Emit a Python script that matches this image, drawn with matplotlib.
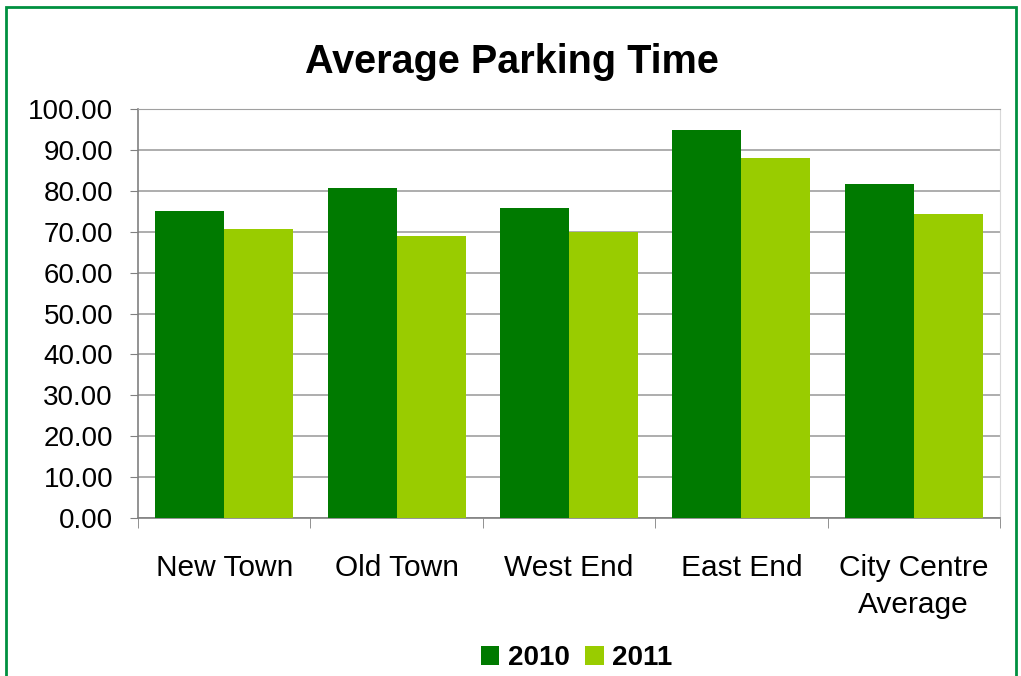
import numpy as np
import matplotlib.pyplot as plt
from matplotlib.patches import Rectangle

plt.rcParams['font.family'] = ['Liberation Sans', 'DejaVu Sans']

# values
areas = ['New Town', 'Old Town', 'West End', 'East End', 'City Centre\nAverage']
time_2010 = [75.1, 80.7, 75.9, 94.9, 81.6]
time_2011 = [70.6, 69.0, 70.0, 87.9, 74.3]
years = ['2010', '2011']

dark_green = '#007a00'
light_green = '#99cc00'

fig = plt.figure(figsize=(10.21, 6.76), dpi=100)
ax = fig.add_axes([138/1021, 1 - 518/676, 862/1021, 409/676])

x = np.arange(len(areas))
w = 0.4
ax.bar(x - w/2, time_2010, w, color=dark_green, label=years[0], zorder=3)
ax.bar(x + w/2, time_2011, w, color=light_green, label=years[1], zorder=3)

ax.set_xlim(-0.5, len(areas) - 0.5)
ax.set_ylim(0, 100)
ax.set_yticks(np.arange(0, 101, 10))
ax.set_yticklabels(['%.2f' % v for v in np.arange(0, 101, 10)], fontsize=20)
ax.yaxis.grid(True, color='#a0a0a0', linewidth=1.2, zorder=0)

# category labels centred, tick marks on the boundaries
ax.set_xticks(x)
ax.set_xticklabels(areas, fontsize=21.5, linespacing=1.4)
ax.tick_params(axis='x', length=0, pad=26)
ax.set_xticks(np.arange(-0.5, len(areas)), minor=True)
ax.tick_params(axis='x', which='minor', length=7, color='#808080', direction='out')
ax.tick_params(axis='y', length=6, color='#808080', direction='out', pad=12)

for s in ['left', 'bottom']:
    ax.spines[s].set_color('#808080')
    ax.spines[s].set_linewidth(1.2)
ax.spines['top'].set_color('#a0a0a0')
ax.spines['right'].set_color('#d8d8d8')

fig.text(512/1021, 1 - 62/676, 'Average Parking Time', ha='center', va='center',
         fontsize=28.5, fontweight='bold')

leg = fig.legend(loc='center', bbox_to_anchor=(577/1021, 1 - 658/676), ncol=2,
                 frameon=False, prop={'size': 20, 'weight': 'bold'},
                 handlelength=0.65, handleheight=0.65, handletextpad=0.32,
                 columnspacing=0.55, borderpad=0, borderaxespad=0)

# green frame around the whole chart
fig.patches.append(Rectangle((6/1021, -0.02), 1010/1021, 1.02 - 7/676,
                             transform=fig.transFigure, fill=False,
                             edgecolor='#009040', linewidth=2))

plt.savefig('out.png', dpi=100)
